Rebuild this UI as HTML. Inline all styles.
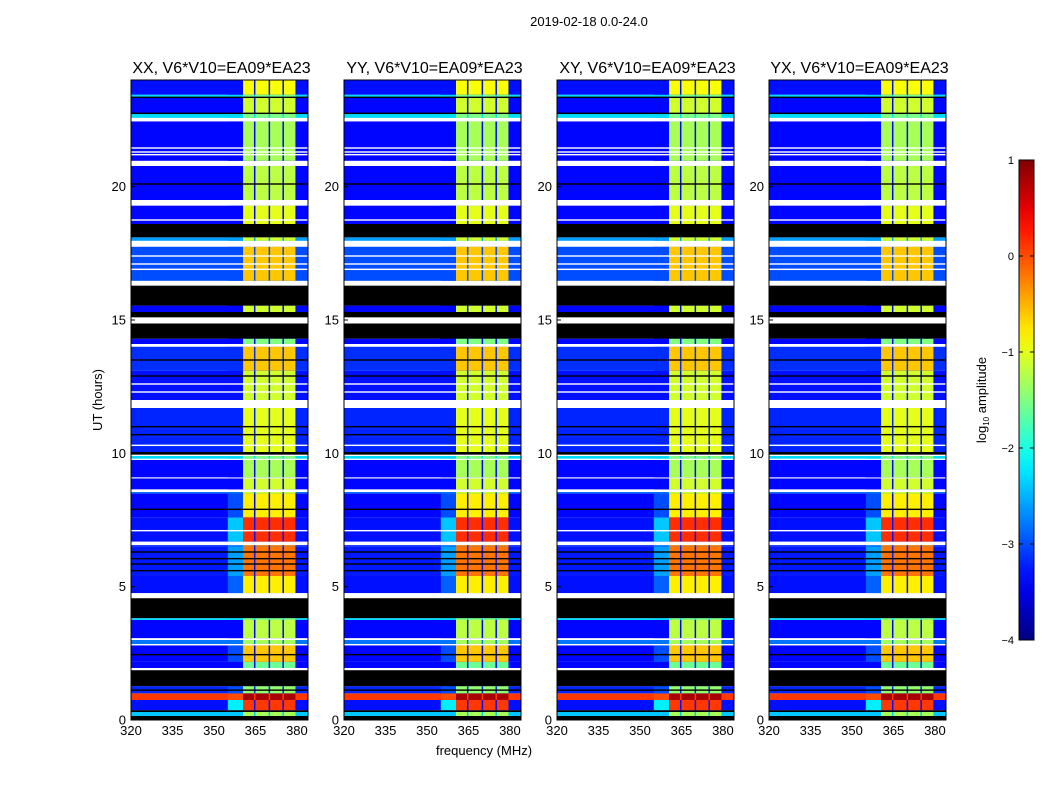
<!DOCTYPE html>
<html><head><meta charset="utf-8">
<style>
body{margin:0;background:#fff;}
svg{display:block;font-family:"Liberation Sans",sans-serif;}
</style></head>
<body>
<svg id="fig" width="1050" height="800" viewBox="0 0 1050 800" xmlns="http://www.w3.org/2000/svg">
<rect width="1050" height="800" fill="#fff"/>
<text x="589" y="26" font-size="13" text-anchor="middle">2019-02-18 0.0-24.0</text>
<text transform="translate(102,400) rotate(-90)" font-size="13" text-anchor="middle">UT (hours)</text>
<text x="484" y="755" font-size="13" text-anchor="middle">frequency (MHz)</text>
<g id="panels"></g>
<g id="cbar"></g>
<text transform="translate(986,400) rotate(-90)" font-size="13" text-anchor="middle">log<tspan font-size="8" dy="3">10</tspan><tspan dy="-3"> amplitude</tspan></text>
</svg>
<script>
const panelTitles = ["XX, V6*V10=EA09*EA23","YY, V6*V10=EA09*EA23","XY, V6*V10=EA09*EA23","YX, V6*V10=EA09*EA23"];
const panelLeft = [131,344,557,769];
const xTicks = [320,335,350,365,380];
const yTicks = [0,5,10,15,20];
const cbTicks = [1,0,-1,-2,-3,-4];
const rfiCols = [[360.5,365],[365,370.3],[370.3,375.3],[375.3,380]];
// [startHour, endHour, kind, bgLevel, rfiLevel, shoulderLevel]
const segments = [
[0,0.15,'black'],[0.15,0.3,'data',-2.4,-1.3,-2.4],[0.3,0.37,'black'],
[0.37,0.75,'data',-3.3,0.1,-2.2],[0.75,1.0,'data',0.1,0.8,0.0],[1.0,1.27,'data',-3.2,-1.4,-3.0],
[1.27,1.87,'black'],[1.87,1.95,'white'],[1.95,2.18,'data',-3.35,-1.6,-3.35],
[2.18,2.8,'data',-3.35,-0.6,-3.0],[2.8,2.85,'white'],[2.85,3.0,'data',-2.8,-1.3,-2.8],[3.0,3.07,'white'],
[3.07,3.75,'data',-3.35,-1.2,-3.35],[3.75,3.82,'data',-2.3,-1.5,-2.3],[3.82,4.57,'black'],[4.57,4.76,'white'],
[4.76,5.4,'data',-3.3,-0.8,-2.9],[5.4,6.5,'data',-3.25,-0.2,-2.6],[6.5,6.56,'data',-3.2,-0.3,-2.7],[6.56,6.69,'white'],
[6.69,7.6,'data',-3.3,0.15,-2.4],[7.6,8.5,'data',-3.35,-0.8,-3.0],[8.5,8.55,'data',-2.8,-1.1,-2.8],[8.55,8.65,'white'],
[8.65,9.06,'data',-3.35,-1.1,-3.35],[9.06,9.1,'white'],[9.1,9.75,'data',-3.35,-1.3,-3.35],[9.75,9.8,'white'],
[9.8,9.9,'data',-2.3,-1.5,-2.3],[9.9,9.95,'white'],[9.95,10.05,'black'],[10.05,11.7,'data',-3.2,-1.0,-3.2],
[11.7,12.0,'white'],[12.0,13.1,'data',-3.3,-1.1,-3.3],[13.1,14.0,'data',-3.15,-0.6,-3.15],
[14.0,14.1,'white'],[14.1,14.3,'data',-3.35,-1.5,-3.35],[14.3,14.87,'black'],[14.87,15.1,'white'],
[15.1,15.3,'black'],[15.3,15.54,'data',-3.35,-1.1,-3.35],[15.54,16.29,'black'],[16.29,16.47,'white'],
[16.47,17.75,'data',-3.0,-0.6,-3.0],[17.75,17.97,'white'],[17.97,18.1,'data',-2.6,-1.1,-2.6],[18.1,18.6,'black'],
[18.6,19.29,'data',-3.35,-1.0,-3.35],[19.29,19.5,'white'],[19.5,20.78,'data',-3.35,-1.2,-3.35],[20.78,20.97,'white'],
[20.97,22.45,'data',-3.35,-1.3,-3.35],[22.45,22.58,'white'],[22.58,22.75,'data',-2.3,-1.5,-2.3],
[22.75,23.35,'data',-3.35,-1.1,-3.35],[23.35,23.45,'data',-2.3,-1.5,-2.3],[23.45,24,'data',-3.3,-0.9,-3.3]
];
// thin flag lines [hour, kind]
const flagLines = [[5.6,'black'],[5.85,'black'],[6.05,'black'],[6.3,'black'],[7.1,'white'],[7.9,'black'],[10.3,'white'],[10.7,'black'],[11.0,'black'],
[12.3,'white'],[12.6,'white'],[12.9,'black'],[13.5,'black'],[16.9,'white'],[17.1,'white'],[17.4,'white'],[18.75,'white'],[20.1,'black'],
[21.2,'white'],[21.3,'white'],[21.45,'white'],[22.75,'black'],[23.35,'black'],[1.12,'black'],[2.45,'black']];

function jet(v){
  let t=(v+4)/5; t=Math.max(0,Math.min(1,t));
  const f=x=>Math.round(255*Math.max(0,Math.min(1,x)));
  const r=Math.min(4*t-1.5,-4*t+4.5), g=Math.min(4*t-0.5,-4*t+3.5), b=Math.min(4*t+0.5,-4*t+2.5);
  return `rgb(${f(r)},${f(g)},${f(b)})`;
}
const NS="http://www.w3.org/2000/svg";
function mk(tag,attrs,parent){const e=document.createElementNS(NS,tag);for(const k in attrs)e.setAttribute(k,attrs[k]);parent.appendChild(e);return e;}
const PW=177, PT=80, PB=720, F0=320, F1=384, H1=24;
const panels=document.getElementById('panels');
panelTitles.forEach((title,i)=>{
  const x0=panelLeft[i];
  const xs=f=>x0+(f-F0)/(F1-F0)*PW;
  const ys=h=>PB-h/H1*(PB-PT);
  const g=mk('g',{},panels);
  
  
  segments.forEach(s=>{
    const y=ys(s[1]), hgt=ys(s[0])-ys(s[1]);
    if(s[2]!=='data'){
      const r=mk('rect',{x:x0,y:y,width:PW,height:hgt,fill:s[2]==='black'?'#000':'#fff'},g);
      
      
      return;
    }
    const bg=mk('rect',{x:x0,y:y,width:PW,height:hgt,fill:jet(s[3])},g);
    
    
    const sh=mk('rect',{x:xs(355),y:y,width:xs(360.5)-xs(355),height:hgt,fill:jet(s[5])},g);
    
    
    rfiCols.forEach(c=>{
      const r=mk('rect',{x:xs(c[0]),y:y,width:xs(c[1])-xs(c[0])-1.5,height:hgt,fill:jet(s[4])},g);
      
      
    });
  });
  flagLines.forEach(l=>{
    const r=mk('rect',{x:x0,y:ys(l[0])-0.7,width:PW,height:1.4,fill:l[1]==='black'?'#000':'#fff'},g);
    
    
  });
  const fr=mk('rect',{x:x0,y:PT,width:PW,height:PB-PT,fill:'none',stroke:'#000','stroke-width':1},g);
  
  
  const t=mk('text',{x:x0+PW/2+2,y:73,'font-size':16,'text-anchor':'middle'},g);
  t.textContent=title;
  
  
  xTicks.forEach(v=>{
    const x=xs(v);
    mk('line',{x1:x,x2:x,y1:PB,y2:PB-4,stroke:'#000'},g);
    const tt=mk('text',{x:x,y:PB+15,'font-size':13,'text-anchor':'middle'},g);
    tt.textContent=v;
    
    
  });
  yTicks.forEach(v=>{
    const y=ys(v);
    mk('line',{x1:x0,x2:x0+4,y1:y,y2:y,stroke:'#000'},g);
    const tt=mk('text',{x:x0-5,y:y+4.5,'font-size':13,'text-anchor':'end'},g);
    tt.textContent=v;
    
    
  });
});
// colorbar
const cb=document.getElementById('cbar');
const CX=1019, CW=15, CT=160, CB=640;
const cys=v=>CB-(v+4)/5*(CB-CT);
const defs=mk('defs',{},cb);
const lg=mk('linearGradient',{id:'jetg',x1:0,y1:1,x2:0,y2:0},defs);
for(let k=0;k<=20;k++){mk('stop',{offset:k/20,'stop-color':jet(-4+5*k/20)},lg);}
const cr=mk('rect',{x:CX,y:CT,width:CW,height:CB-CT,fill:'url(#jetg)',stroke:'#000','stroke-width':1},cb);


cbTicks.forEach(v=>{
  const y=cys(v);
  mk('line',{x1:CX,x2:CX+4,y1:y,y2:y,stroke:'#000'},cb);
  mk('line',{x1:CX+CW-4,x2:CX+CW,y1:y,y2:y,stroke:'#000'},cb);
  const tt=mk('text',{x:CX-5,y:y+4,'font-size':11,'text-anchor':'end'},cb);
  tt.textContent=(v<0?'\u2212'+(-v):v);
  
  
});
</script>
</body></html>
